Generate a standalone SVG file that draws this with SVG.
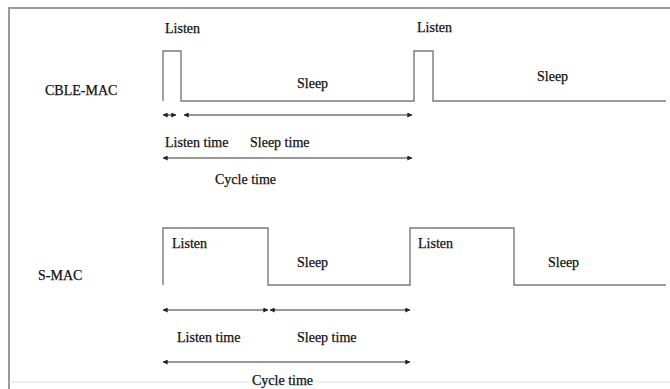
<svg xmlns="http://www.w3.org/2000/svg" width="670" height="389" viewBox="0 0 670 389">
<style>
text{font-family:"Liberation Serif","Times New Roman",serif;font-size:14px;fill:#111;stroke:#111;stroke-width:0.25}
.wave{fill:none;stroke:#7a7a7a;stroke-width:1.4}
.arr{stroke:#333;stroke-width:1.1;marker-start:url(#ah);marker-end:url(#ah)}
.frame{stroke:#9a9a9a;stroke-width:2;fill:none}
</style>
<defs>
<marker id="ah" viewBox="0 0 8 8" refX="7.5" refY="4" markerWidth="5" markerHeight="5" markerUnits="userSpaceOnUse" orient="auto-start-reverse">
<path d="M0,0 L8,4 L0,8 z" fill="#222"/>
</marker>
</defs>
<rect width="670" height="389" fill="#fff"/>
<g id="frame">
<path class="frame" d="M9,389 V8 H670"/>
<line x1="9" y1="382" x2="670" y2="382" stroke="#e2e2e2" stroke-width="1"/>
</g>
<g id="cble-mac">
<text x="45" y="95">CBLE-MAC</text>
<path class="wave" d="M163,101 V51 H181 V101 H414 V51 H433 V101 H666"/>
<text x="165" y="33">Listen</text>
<text x="417" y="32">Listen</text>
<text x="297" y="88">Sleep</text>
<text x="537" y="81">Sleep</text>
</g>
<g id="s-mac">
<text x="38" y="280">S-MAC</text>
<path class="wave" d="M163,285 V228 H268 V285 H410 V228 H514 V285 H666"/>
<text x="172" y="248">Listen</text>
<text x="418" y="248">Listen</text>
<text x="297" y="267">Sleep</text>
<text x="548" y="267">Sleep</text>
</g>
<g id="connectors">
<line class="arr" x1="163" y1="115" x2="176" y2="115"/>
<line class="arr" x1="184" y1="115" x2="412" y2="115"/>
<line class="arr" x1="163" y1="158" x2="412" y2="158"/>
<line class="arr" x1="163" y1="310" x2="268" y2="310"/>
<line class="arr" x1="270" y1="310" x2="410" y2="310"/>
<line class="arr" x1="163" y1="362" x2="410" y2="362"/>
</g>
<g id="labels">
<text x="165" y="147">Listen time</text>
<text x="250" y="147">Sleep time</text>
<text x="215" y="184">Cycle time</text>
<text x="177" y="342">Listen time</text>
<text x="297" y="342">Sleep time</text>
<text x="252" y="385">Cycle time</text>
</g>
</svg>
